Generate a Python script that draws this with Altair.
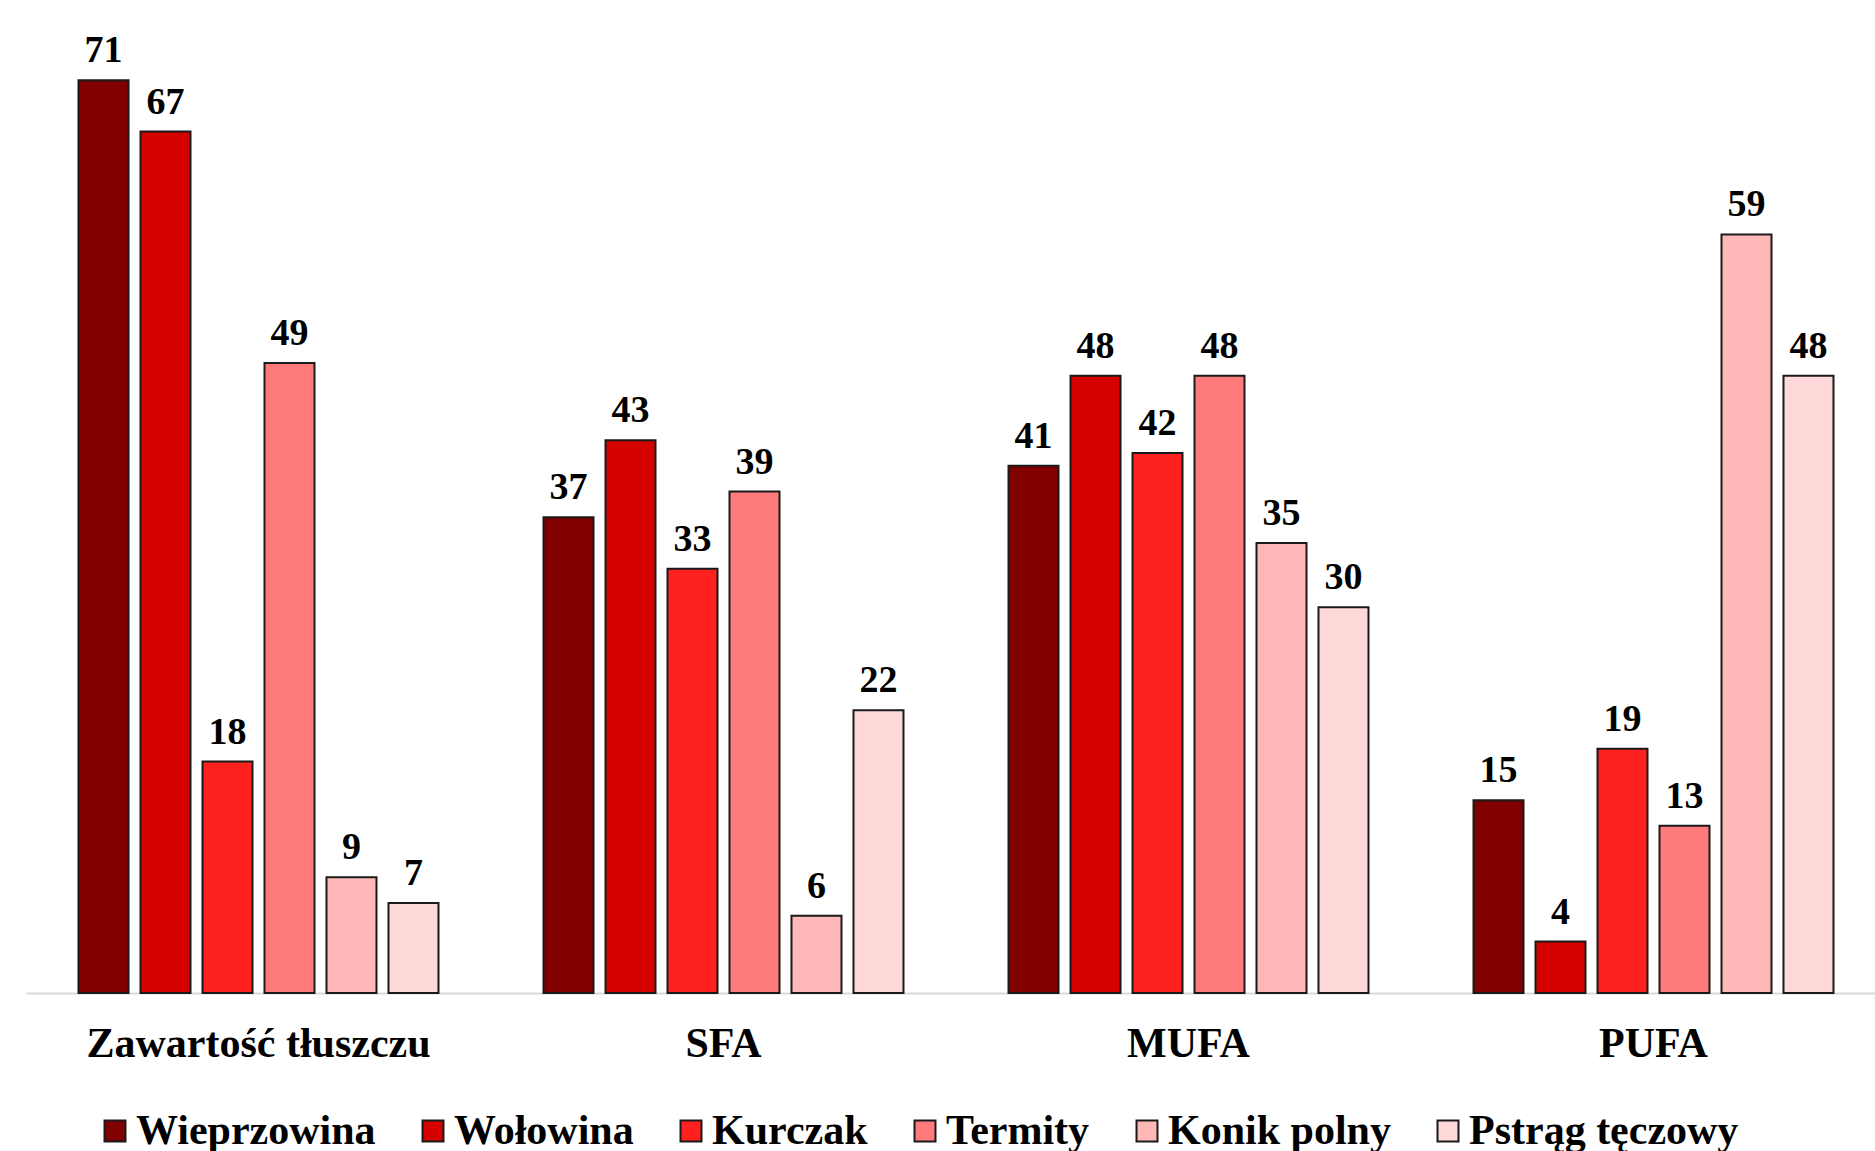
import altair as alt
import pandas as pd

categories = ["Zawartość tłuszczu", "SFA", "MUFA", "PUFA"]
series = ["Wieprzowina", "Wołowina", "Kurczak", "Termity", "Konik polny", "Pstrąg tęczowy"]
colors = ["#800000", "#D50000", "#FF2020", "#FF7B7B", "#FFB8B8", "#FFD9D9"]
values = {
    "Wieprzowina":    [71, 37, 41, 15],
    "Wołowina":       [67, 43, 48, 4],
    "Kurczak":        [18, 33, 42, 19],
    "Termity":        [49, 39, 48, 13],
    "Konik polny":    [9, 6, 35, 59],
    "Pstrąg tęczowy": [7, 22, 30, 48],
}

rows = []
for s in series:
    for c, v in zip(categories, values[s]):
        rows.append({"cat": c, "series": s, "value": v})
df = pd.DataFrame(rows)

FONT = "Liberation Serif"

x = alt.X("cat:N", sort=categories, title=None,
          scale=alt.Scale(range=[0, 1860], paddingInner=0, paddingOuter=0),
          axis=alt.Axis(labelAngle=0, labelFont=FONT, labelFontSize=42, labelFontWeight="bold",
                        labelColor="black", labelPadding=30, ticks=False, labelLimit=0,
                        domainColor="#d9d9d9", domainWidth=2, grid=False))
xo = alt.XOffset("series:N", sort=series,
                 scale=alt.Scale(paddingInner=0.1935, paddingOuter=0.847))
y = alt.Y("value:Q", scale=alt.Scale(domain=[0, 77]), axis=None)

bars = alt.Chart(df).mark_bar(stroke="#1a1a1a", strokeWidth=2).encode(
    x=x, xOffset=xo, y=y,
    color=alt.Color("series:N", sort=series,
                    scale=alt.Scale(domain=series, range=colors),
                    legend=alt.Legend(title=None, orient="none", direction="horizontal",
                                      legendX=68, legendY=1107, padding=0,
                                      symbolType="square", symbolSize=440,
                                      symbolStrokeColor="#1a1a1a", symbolStrokeWidth=2,
                                      symbolOpacity=1,
                                      labelFont=FONT, labelFontSize=42, labelFontWeight="bold",
                                      labelColor="black", labelOffset=0, columnPadding=36,
                                      labelLimit=0)),
)

labels = alt.Chart(df).mark_text(font=FONT, fontSize=38, fontWeight="bold", color="black",
                                 baseline="alphabetic", dy=-18).encode(
    x=x, xOffset=xo, y=y, text="value:Q"
)

chart = alt.layer(bars, labels).properties(
    width=1849, height=990,
    autosize=alt.AutoSizeParams(type="none"),
    padding={"left": 26, "top": 3, "right": 0, "bottom": 158},
).configure_view(stroke=None)

chart.save("out.html", embed_options={"renderer": "svg", "actions": False})
